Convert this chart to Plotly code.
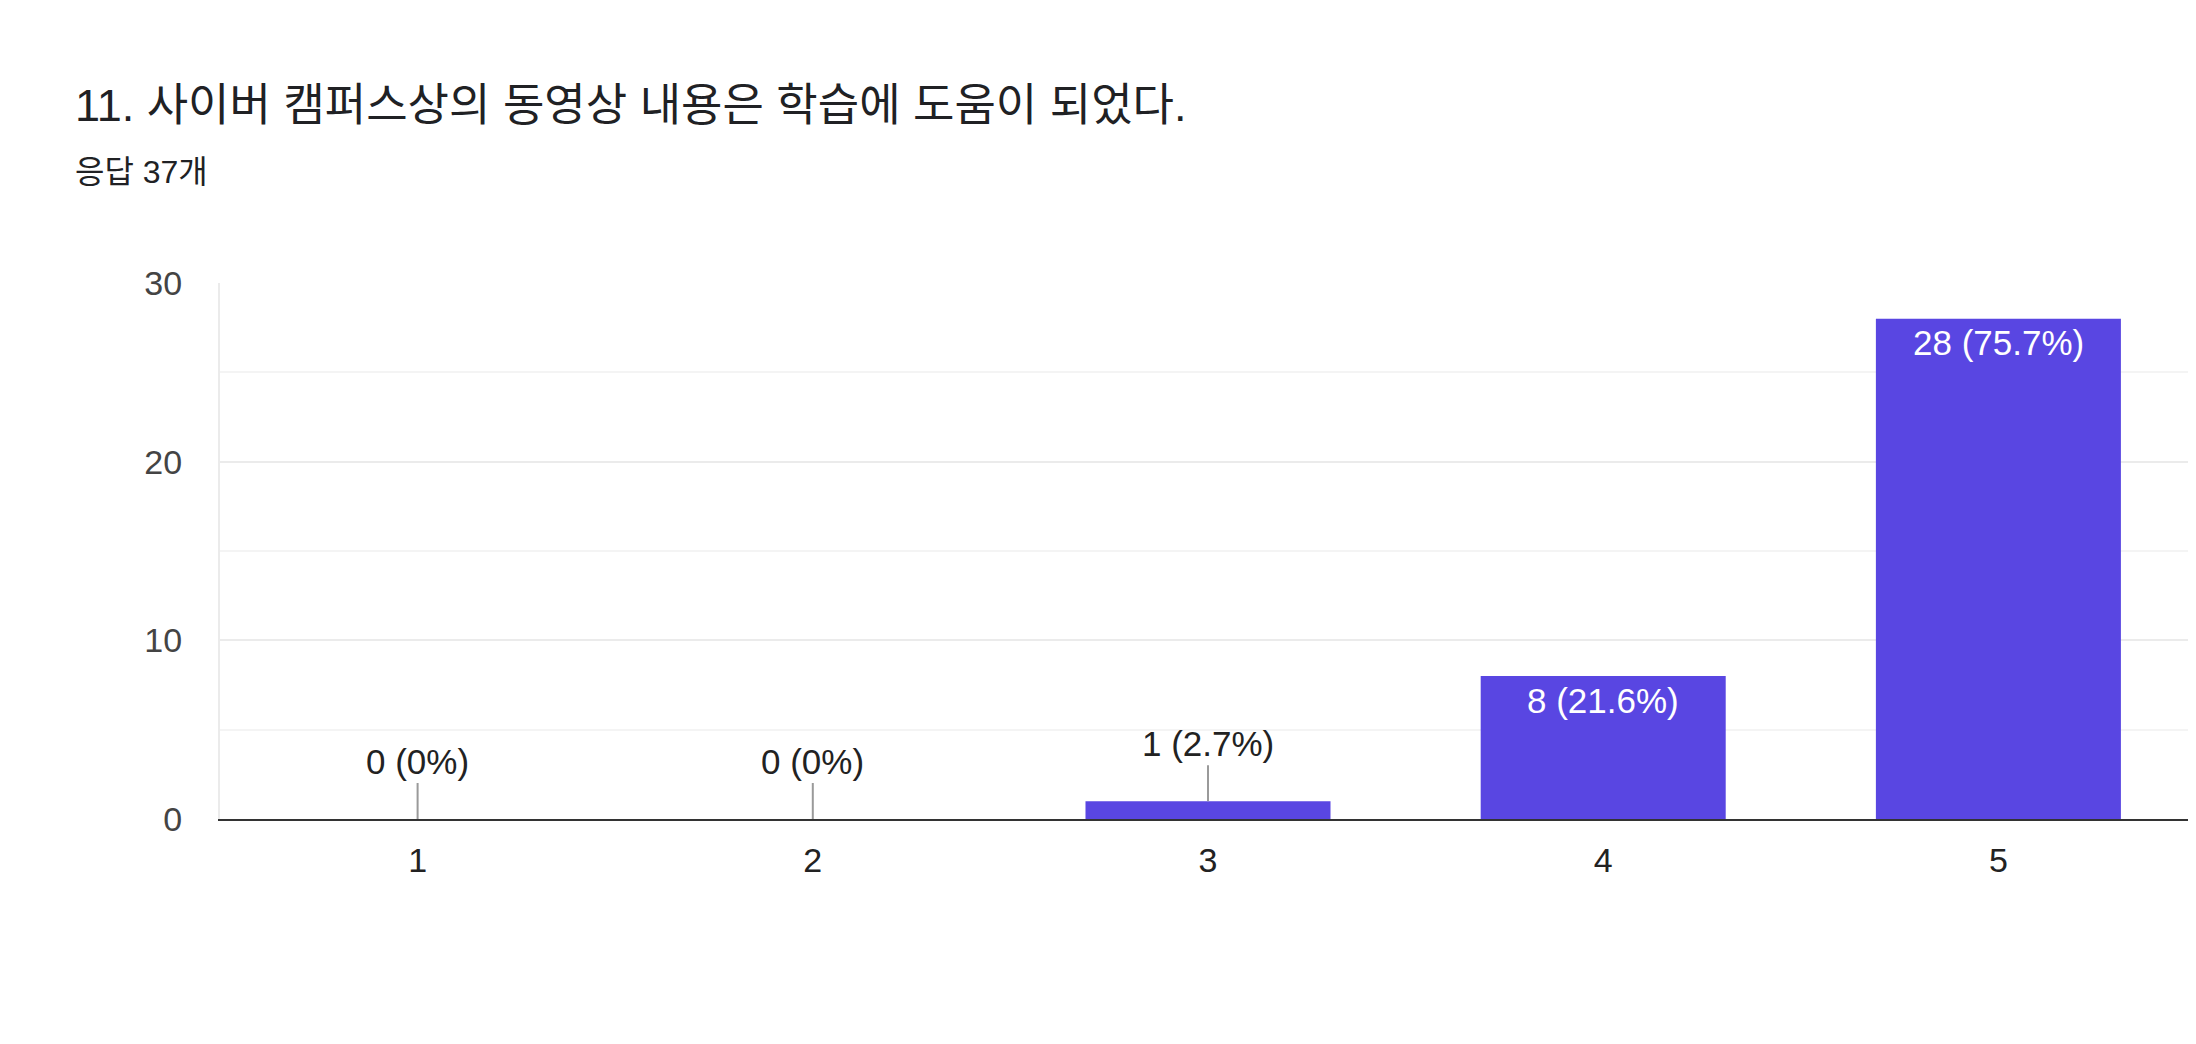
"""
Google Forms style response bar chart (question 11).
"""

import plotly.graph_objects as go

title_text = "11. 사이버 캠퍼스상의 동영상 내용은 학습에 도움이 되었다."
subtitle_text = "응답 37개"

categories = ["1", "2", "3", "4", "5"]
counts = [0, 0, 1, 8, 28]
percents = ["0%", "0%", "2.7%", "21.6%", "75.7%"]

y_ticks = [0, 10, 20, 30]

BAR_COLOR = "#5946e2"
FONT = "Liberation Sans, Arial, Noto Sans CJK KR, sans-serif"

W, H = 2188, 1028
M_L, M_R, M_T, M_B = 212, 0, 275, 217
plot_w = W - M_L - M_R
plot_h = H - M_T - M_B

fig = go.Figure()

fig.add_trace(
    go.Bar(
        x=categories,
        y=counts,
        marker=dict(color=BAR_COLOR, line=dict(width=0)),
        hoverinfo="skip",
    )
)

# value labels: outside with a stem for short bars, inside (white) for tall ones
# (category axis -> annotations placed by category index)
for i, (n, pct) in enumerate(zip(counts, percents)):
    label = f"{n} ({pct})"
    if n >= 5:
        fig.add_annotation(
            x=i, y=n, text=label, showarrow=False,
            yanchor="middle", yshift=-24,
            font=dict(family=FONT, size=35, color="#ffffff"),
        )
    else:
        fig.add_annotation(
            x=i, y=n, text=label, showarrow=True,
            arrowhead=0, arrowwidth=2, arrowcolor="#9a9a9a",
            ax=0, ay=-36, yanchor="bottom",
            font=dict(family=FONT, size=35, color="#222222"),
        )

fig.add_annotation(
    xref="paper", yref="paper",
    x=(65 - M_L) / plot_w, y=(H - M_B - 97) / plot_h,
    xanchor="left", yanchor="middle", showarrow=False,
    text=title_text,
    font=dict(family=FONT, size=45, color="#202124"),
)
fig.add_annotation(
    xref="paper", yref="paper",
    x=(65 - M_L) / plot_w, y=(H - M_B - 164) / plot_h,
    xanchor="left", yanchor="middle", showarrow=False,
    text=subtitle_text,
    font=dict(family=FONT, size=32, color="#202124"),
)

fig.update_layout(
    width=W,
    height=H,
    margin=dict(l=M_L, r=M_R, t=M_T, b=M_B, pad=0),
    paper_bgcolor="white",
    plot_bgcolor="white",
    showlegend=False,
    bargap=0.38,
    xaxis=dict(
        type="category",
        range=[-0.5, 4.5],
        showgrid=False,
        showline=True,
        linecolor="#333333",
        linewidth=2,
        ticks="",
        ticklabelstandoff=10,
        tickfont=dict(family=FONT, size=34, color="#222222"),
        fixedrange=True,
    ),
    yaxis=dict(
        range=[0, 30],
        tickvals=y_ticks,
        showgrid=True,
        gridcolor="#ebebeb",
        gridwidth=2,
        minor=dict(dtick=5, showgrid=True, gridcolor="#f4f4f4", gridwidth=2),
        zeroline=False,
        showline=True,
        linecolor="#ebebeb",
        linewidth=2,
        ticks="",
        ticklabelstandoff=29,
        tickfont=dict(family=FONT, size=34, color="#444444"),
        fixedrange=True,
    ),
)

fig.write_html("out.html")
